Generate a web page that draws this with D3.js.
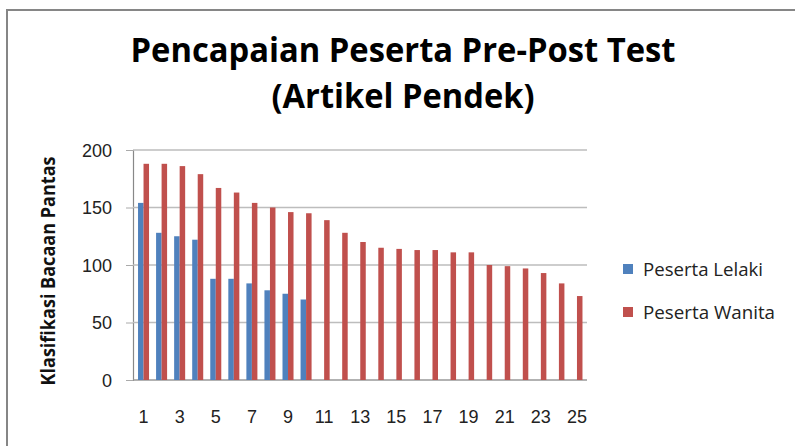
<!DOCTYPE html>
<html>
<head>
<meta charset="utf-8">
<script src="https://cdn.jsdelivr.net/npm/d3@7"></script>
<style>
  body { margin: 0; background: #fff; }
  svg { display: block; font-family: "Open Sans", "Noto Sans", sans-serif; }
</style>
</head>
<body>
<div class="canvas"></div>
<script>
// data
const categories = d3.range(1, 26).map(String);
const lelaki = [154, 128, 125, 122, 88, 88, 84, 78, 75, 70];
const wanita = [188, 188, 186, 179, 167, 163, 154, 150, 146, 145,
                139, 128, 120, 115, 114, 113, 113, 111, 111, 100,
                99, 97, 93, 84, 73];
const yTicks = [0, 50, 100, 150, 200];
const seriesNames = ["Peserta Lelaki", "Peserta Wanita"];
const colors = ["#4f81bd", "#c0504d"];

const svg = d3
  .select(".canvas")
  .append("svg")
  .attr("width", 795)
  .attr("height", 446);

// chart frame
svg.append("rect")
  .attr("x", 7).attr("y", 10)
  .attr("width", 800).attr("height", 450)
  .attr("fill", "none")
  .attr("stroke", "#868686")
  .attr("stroke-width", 2);

const margin = { top: 150, left: 133 };
const graphWidth = 587 - 133;
const graphHeight = 380 - 150;

const graph = svg.append("g")
  .attr("transform", `translate(${margin.left},${margin.top})`);

const y = d3.scaleLinear().domain([0, 200]).range([graphHeight, 0]);
const x = d3.scaleBand().domain(categories).range([1.5, graphWidth - 1])
  .paddingInner(0.39).paddingOuter(0.195);
const xSub = d3.scaleBand().domain([0, 1]).range([0, x.bandwidth()]);

// gridlines + y axis
const yAxis = d3.axisLeft(y).tickValues(yTicks).tickSize(7).tickPadding(14);
const yAxisGroup = graph.append("g").call(yAxis);
yAxisGroup.select(".domain").attr("stroke", "#888").attr("stroke-width", 1.2);
yAxisGroup.selectAll(".tick line").attr("stroke", "#aaa");
yAxisGroup.selectAll("text")
  .attr("font-size", 18).attr("fill", "#222")
  .attr("dy", "0.36em");

graph.append("g")
  .selectAll("line")
  .data(yTicks)
  .enter()
  .append("line")
  .attr("x1", 0).attr("x2", graphWidth)
  .attr("y1", (d) => y(d)).attr("y2", (d) => y(d))
  .attr("stroke", (d) => (d === 0 ? "#999" : "#bdbdbd"))
  .attr("stroke-width", 1.6);

// bars
const series = [lelaki, wanita];
series.forEach((vals, s) => {
  graph.append("g")
    .selectAll("rect")
    .data(vals)
    .enter()
    .append("rect")
    .attr("x", (d, i) => x(categories[i]) + xSub(s))
    .attr("width", xSub.bandwidth())
    .attr("y", (d) => y(d))
    .attr("height", (d) => graphHeight - y(d))
    .attr("fill", colors[s]);
});

// x axis labels (every other category)
const xAxis = d3.axisBottom(x)
  .tickValues(categories.filter((d, i) => i % 2 === 0))
  .tickSize(0).tickPadding(30);
const xAxisGroup = graph.append("g")
  .attr("transform", `translate(0, ${graphHeight})`)
  .call(xAxis);
xAxisGroup.select(".domain").remove();
xAxisGroup.selectAll("text").attr("font-size", 18).attr("fill", "#222");

// y axis title
svg.append("text")
  .attr("transform", "translate(55, 271) rotate(-90)")
  .attr("text-anchor", "middle")
  .attr("font-size", 19)
  .attr("font-weight", "bold")
  .attr("fill", "#111")
  .attr("textLength", 229)
  .attr("lengthAdjust", "spacingAndGlyphs")
  .text("Klasifikasi Bacaan Pantas");

// title
svg.append("text")
  .attr("x", 403).attr("y", 62)
  .attr("text-anchor", "middle")
  .attr("font-size", 34)
  .attr("font-weight", "bold")
  .attr("fill", "#000")
  .attr("textLength", 545)
  .attr("lengthAdjust", "spacingAndGlyphs")
  .text("Pencapaian Peserta Pre-Post Test");
svg.append("text")
  .attr("x", 403).attr("y", 108)
  .attr("text-anchor", "middle")
  .attr("font-size", 34)
  .attr("font-weight", "bold")
  .attr("fill", "#000")
  .attr("textLength", 263)
  .attr("lengthAdjust", "spacingAndGlyphs")
  .text("(Artikel Pendek)");

// legend
const legendWidths = [120, 132];
const legend = svg.append("g").attr("transform", "translate(623, 264)");
seriesNames.forEach((name, i) => {
  const row = legend.append("g").attr("transform", `translate(0, ${i * 43})`);
  row.append("rect")
    .attr("width", 10).attr("height", 10)
    .attr("fill", colors[i]);
  row.append("text")
    .attr("x", 20).attr("y", 12)
    .attr("font-size", 18)
    .attr("fill", "#222")
    .attr("textLength", legendWidths[i])
    .attr("lengthAdjust", "spacingAndGlyphs")
    .text(name);
});
</script>
</body>
</html>
